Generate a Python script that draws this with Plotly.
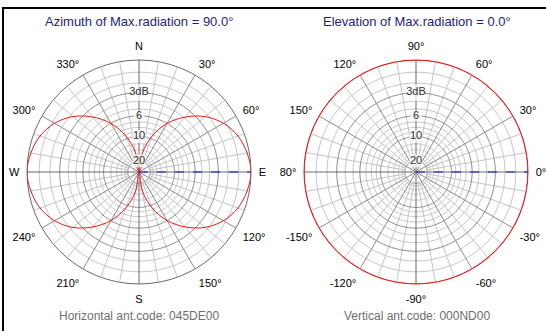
import plotly.graph_objects as go

# ---------------- data ----------------
# Horizontal (azimuth) pattern, relative field strength (linear), every 10 deg from N clockwise
az_deg = list(range(0, 361, 10))
az_field = [0.0, 0.17, 0.34, 0.50, 0.64, 0.77, 0.87, 0.94, 0.98, 1.00,
            0.98, 0.94, 0.87, 0.77, 0.64, 0.50, 0.34, 0.17, 0.0,
            0.17, 0.34, 0.50, 0.64, 0.77, 0.87, 0.94, 0.98, 1.00,
            0.98, 0.94, 0.87, 0.77, 0.64, 0.50, 0.34, 0.17, 0.0]
# Vertical (elevation) pattern: omnidirectional
el_deg = list(range(0, 361, 10))
el_field = [1.0] * 37

max_az = 90.0
max_el = 0.0

titles = ["Azimuth of Max.radiation = 90.0°", "Elevation of Max.radiation = 0.0°"]
codes = ["Horizontal ant.code: 045DE00", "Vertical ant.code: 000ND00"]

angle_ticks = list(range(0, 360, 30))
az_ticktext = ["N", "30°", "60°", "E", "120°", "150°", "S", "210°", "240°", "W", "300°", "330°"]
el_ticktext = ["0°", "30°", "60°", "90°", "120°", "150°", "80°", "-150°", "-120°", "-90°", "-60°", "-30°"]

ring_db_minor = [1, 2, 4, 5, 7, 8, 9, 12, 14, 16, 18, 26]
ring_db_major = [3, 6, 10, 20]
ring_labels = ["3dB", "6", "10", "20"]
spoke_minor = [a for a in range(0, 360, 10) if a % 30 != 0]
spoke_major = [a for a in range(0, 360, 30) if a % 90 != 0]
spoke_axes = [0, 90, 180, 270]


def db_to_r(db):
    return 10 ** (-db / 20.0)


LIGHT = "#c4c4c4"
MID = "#8c8c8c"
DARK = "#6a6a6a"
RED = "#e81818"
BLUE = "#1010d0"

fig = go.Figure()
full_circle = list(range(0, 361, 2))


def add_grid(sub, outer_color):
    for db in ring_db_minor:
        r = db_to_r(db)
        fig.add_trace(go.Scatterpolar(r=[r] * len(full_circle), theta=full_circle, mode="lines",
                                      line=dict(color=LIGHT, width=1), subplot=sub,
                                      hoverinfo="skip", showlegend=False))
    for a in spoke_minor:
        fig.add_trace(go.Scatterpolar(r=[db_to_r(20), 1], theta=[a, a], mode="lines",
                                      line=dict(color=LIGHT, width=1), subplot=sub,
                                      hoverinfo="skip", showlegend=False))
    for db in ring_db_major:
        r = db_to_r(db)
        fig.add_trace(go.Scatterpolar(r=[r] * len(full_circle), theta=full_circle, mode="lines",
                                      line=dict(color=MID, width=1), subplot=sub,
                                      hoverinfo="skip", showlegend=False))
    for a in spoke_major:
        fig.add_trace(go.Scatterpolar(r=[0, 1], theta=[a, a], mode="lines",
                                      line=dict(color=MID, width=1), subplot=sub,
                                      hoverinfo="skip", showlegend=False))
    for a in spoke_axes:
        fig.add_trace(go.Scatterpolar(r=[0, 1], theta=[a, a], mode="lines",
                                      line=dict(color=DARK, width=1), subplot=sub,
                                      hoverinfo="skip", showlegend=False))


def add_labels(sub, north_theta):
    rs = [db_to_r(d) for d in ring_db_major]
    fig.add_trace(go.Scatterpolar(r=rs, theta=[north_theta] * len(rs), mode="markers+text",
                                  text=ring_labels, textposition="middle center",
                                  textfont=dict(family="Liberation Sans, Arial", size=11, color="#303030"),
                                  marker=dict(symbol="square", size=[17, 11, 13, 13], color="white",
                                              line=dict(width=0)),
                                  subplot=sub, hoverinfo="skip", showlegend=False, cliponaxis=False))


# left: azimuth
add_grid("polar", DARK)
fig.add_trace(go.Scatterpolar(r=az_field, theta=az_deg, mode="lines",
                              line=dict(color=RED, width=1, shape="spline", smoothing=1.0),
                              subplot="polar", hoverinfo="skip", showlegend=False))
fig.add_trace(go.Scatterpolar(r=[0, 1], theta=[max_az, max_az], mode="lines",
                              line=dict(color=BLUE, width=1, dash="dash"), subplot="polar",
                              hoverinfo="skip", showlegend=False))
add_labels("polar", 0)

# right: elevation
add_grid("polar2", RED)
fig.add_trace(go.Scatterpolar(r=el_field, theta=el_deg, mode="lines",
                              line=dict(color=RED, width=1.2, shape="spline", smoothing=1.0),
                              subplot="polar2", hoverinfo="skip", showlegend=False, cliponaxis=False))
fig.add_trace(go.Scatterpolar(r=[0, 1], theta=[max_el, max_el], mode="lines",
                              line=dict(color=BLUE, width=1, dash="dash"), subplot="polar2",
                              hoverinfo="skip", showlegend=False))
add_labels("polar2", 90)

W, H = 546, 331
tickfont = dict(family="Liberation Sans, Arial", size=11, color="#000000")


def polar_cfg(x0, x1, rotation, direction, ticktext, outer_color):
    return dict(
        domain=dict(x=[x0 / W, x1 / W], y=[47 / H, 271 / H]),
        bgcolor="white",
        radialaxis=dict(visible=False, range=[0, 1], showgrid=False),
        angularaxis=dict(rotation=rotation, direction=direction, tickmode="array",
                         tickvals=angle_ticks, ticktext=ticktext, showgrid=False,
                         showline=True, linecolor=outer_color, linewidth=1, layer="below traces",
                         ticks="outside", ticklen=5, tickcolor="rgba(0,0,0,0)",
                         tickfont=tickfont),
    )


def text_ann(text, x, y, size, color):
    return dict(text=text, x=x / W, y=1 - y / H, xref="paper", yref="paper", showarrow=False,
                xanchor="center", yanchor="middle",
                font=dict(family="Liberation Sans, Arial", size=size, color=color))


fig.update_layout(
    width=W, height=H,
    margin=dict(l=0, r=0, t=0, b=0),
    paper_bgcolor="white",
    showlegend=False,
    polar=polar_cfg(27, 251, 90, "clockwise", az_ticktext, DARK),
    polar2=polar_cfg(304, 528, 0, "counterclockwise", el_ticktext, RED),
    shapes=[
        dict(type="line", xref="paper", yref="paper", x0=2 / W, x1=1, y0=1 - 8 / H, y1=1 - 8 / H,
             line=dict(color="black", width=2)),
        dict(type="line", xref="paper", yref="paper", x0=3 / W, x1=3 / W, y0=0, y1=1 - 8 / H,
             line=dict(color="black", width=2)),
    ],
    annotations=[
        text_ann(titles[0], 139, 21, 13, "#1e1e80"),
        text_ann(titles[1], 417, 21, 13, "#1e1e80"),
        text_ann(codes[0], 139, 316, 12, "#6e6e6e"),
        text_ann(codes[1], 417, 316, 12, "#6e6e6e"),
    ],
)

fig.write_html("out.html", config={"displayModeBar": False},
               post_script="document.body.style.margin='0';document.body.style.overflow='hidden';")
